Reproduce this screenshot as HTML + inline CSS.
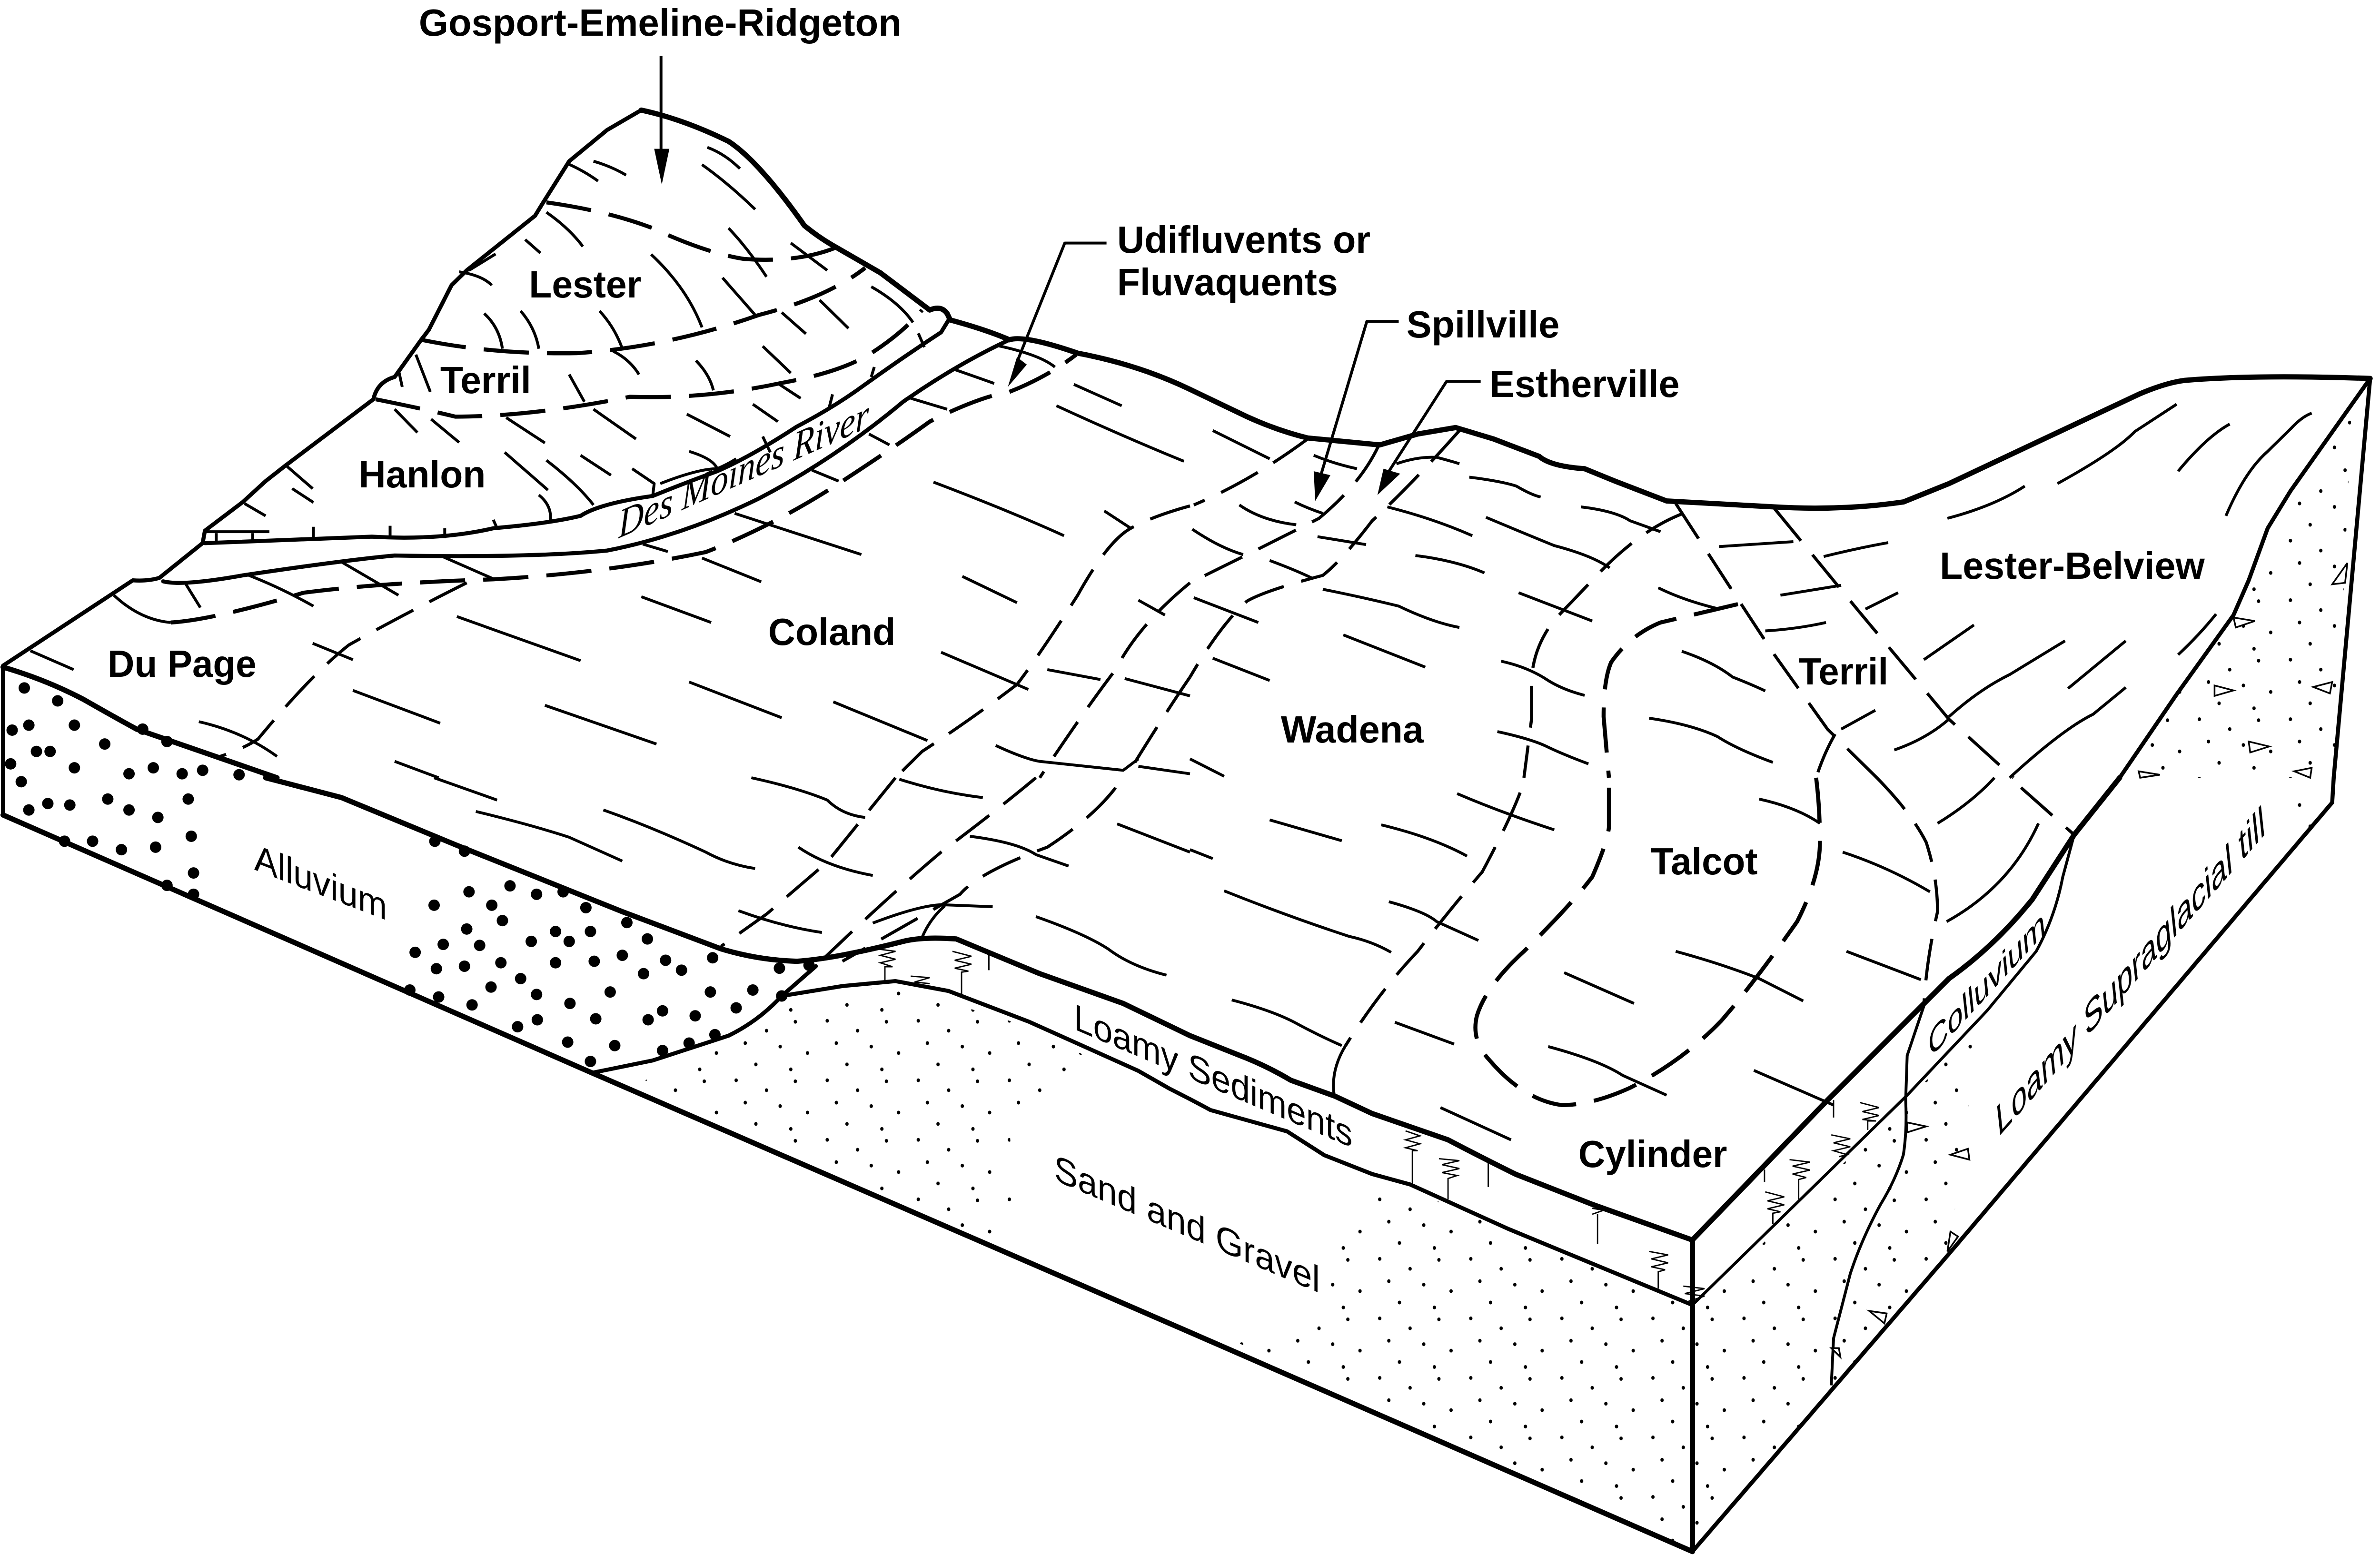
<!DOCTYPE html>
<html><head><meta charset="utf-8"><title>Soil block diagram</title>
<style>
html,body{margin:0;padding:0;background:#fff;overflow:hidden;width:100%;height:100%}
svg{display:block;overflow:hidden;width:100vw;height:100vh}
path,polygon{vector-effect:non-scaling-stroke}
.k{fill:none;stroke:#000;stroke-width:11;stroke-linecap:round;stroke-linejoin:round}
.m{fill:none;stroke:#000;stroke-width:8.5;stroke-linecap:round;stroke-linejoin:round}
.t{fill:none;stroke:#000;stroke-width:6;stroke-linecap:butt;stroke-linejoin:round}
.v{fill:none;stroke:#000;stroke-width:2.8;stroke-linejoin:miter}
.d{fill:none;stroke:#000;stroke-width:6.5;stroke-dasharray:88 38}
.h{fill:none;stroke:#000;stroke-width:8.5;stroke-dasharray:95 38}
.dot{fill:none;stroke:#000;stroke-width:24;stroke-linecap:round}
.a{fill:#000;stroke:none}
.s{stroke:none}
.tri{fill:#fff;stroke:#000;stroke-width:3.5}
.b{font-family:"Liberation Sans",sans-serif;font-weight:700;font-size:80px;fill:#000}
.r{font-family:"Liberation Sans",sans-serif;font-size:78px;fill:#000}
.i{font-family:"Liberation Sans",sans-serif;font-size:88px;fill:#000}
.c{font-family:"Liberation Sans",sans-serif;font-size:74px;fill:#000}
.e{font-family:"Liberation Serif",serif;font-style:italic;font-size:86px;fill:#000}
</style></head>
<body>
<svg xmlns="http://www.w3.org/2000/svg" viewBox="0 0 5552 3267" preserveAspectRatio="none">
<defs>
<pattern id="st" patternUnits="userSpaceOnUse" width="120" height="120">
<g fill="#000">
<ellipse cx="10" cy="10" rx="2.2" ry="3.8"/><ellipse cx="50" cy="30" rx="2.2" ry="3.8"/><ellipse cx="88" cy="12" rx="2.2" ry="3.8"/>
<ellipse cx="22" cy="55" rx="2.2" ry="3.8"/><ellipse cx="68" cy="62" rx="2.2" ry="3.8"/><ellipse cx="104" cy="75" rx="2.2" ry="3.8"/>
<ellipse cx="36" cy="98" rx="2.2" ry="3.8"/><ellipse cx="82" cy="108" rx="2.2" ry="3.8"/>
</g></pattern>
</defs>
<rect width="5552" height="3267" fill="#fff"/>

<!-- Q1 -->
<g transform="matrix(1.7704 0 0 1.0421 0 0)">
<path class="dot" d="M32 1387h.01M76 1413h.01M16 1472h.01M38 1462h.01M98 1462h.01M138 1500h.01M188 1470h.01M220 1495h.01M48 1515h.01M66 1515h.01M14 1540h.01M98 1548h.01M170 1560h.01M202 1548h.01M240 1560h.01M267 1553h.01M315 1562h.01"/>
<path class="m" d="M845 222L800 262L750 325L715 410L705 435L615 545L595 575L565 665L555 685L520 760Q497 770 492 805L375 940L350 970L320 1012L270 1070L267 1095L210 1165Q195 1172 175 1170L4 1342"/>
<path class="k" d="M845 222Q900 240 960 285Q1000 325 1060 455Q1080 480 1100 497L1160 550L1225 625Q1240 615 1248 632L1252 645Q1300 665 1330 685Q1350 675 1420 712Q1500 735 1568 785"/>
<path class="k" d="M4 1345Q60 1370 110 1410Q150 1445 180 1470L365 1568"/>
<path class="m" d="M4 1345V1568"/>
<path class="m" d="M270 1095L490 1082Q580 1090 650 1065Q725 1055 765 1040Q790 1015 860 1000Q900 975 945 950Q990 920 1050 860Q1100 820 1140 775Q1190 720 1240 670L1250 645"/>
<path class="m" d="M215 1172Q240 1182 320 1160Q450 1130 520 1120Q700 1125 800 1110Q900 1080 1000 1005Q1100 925 1190 810Q1260 735 1330 685"/>
<path class="t" d="M870 975Q920 945 945 945Q960 935 970 925M270 1072H355M285 1075V1092M333 1075V1092M413 1062V1087M514 1060V1082M586 1065V1085M650 1048L655 1065
M748 330Q770 345 788 365M782 325Q805 335 825 353M925 332Q960 370 995 422M932 297Q955 310 975 340M720 428Q750 460 768 497M692 483L712 510M653 512L618 545M858 513Q905 580 925 660M960 460Q985 500 1010 558M1042 490L1090 545M952 560L995 635M605 548Q635 555 648 575M638 632Q658 660 662 703M686 627Q705 660 710 703M790 627Q810 660 820 703M1030 630L1062 673M1080 605L1118 662M1148 578Q1185 610 1203 650M1005 698L1042 752M808 708Q830 725 842 755M917 727Q935 755 940 787M750 755L770 810M548 715L567 790M525 745L530 780M1025 773L1055 803M992 815L1025 850M905 835L962 880M782 825L838 885M667 842L718 893M568 845L605 892M520 825L550 872M1097 795L1092 825M1152 740L1148 760M1210 672L1218 700M1005 880L1015 912M908 910Q940 925 945 945M665 912L722 988M720 928Q760 975 782 1018M765 918L805 958M833 945L862 975L860 1000M710 998Q728 1020 725 1052M378 940L412 985M385 985L413 1013M322 1015L350 1040M150 1200Q185 1250 225 1255M40 1312L97 1350M245 1178L264 1225M328 1160Q370 1185 413 1222M450 1133L525 1200M580 1120L650 1167M847 1097L880 1112M925 1125L1003 1173M968 1035L1135 1118M1070 948L1105 970M1145 875L1172 897M1200 803L1248 825M1258 745L1310 773M1315 697Q1370 715 1390 740M1415 775L1478 818M1392 818Q1480 880 1560 930M1230 972Q1330 1030 1402 1080M1268 1162L1340 1215M1240 1315L1355 1390M1380 1350L1450 1370M1482 1368L1568 1403M1455 1030L1490 1065M1500 1210L1535 1240M845 1203L937 1255M602 1243L765 1332M412 1297L465 1330M465 1392L580 1458M718 1422L865 1500M908 1375L1030 1447M1098 1415L1222 1493M262 1455Q320 1475 365 1525M520 1535L578 1568M1312 1503Q1350 1530 1370 1535L1480 1553L1500 1530M1500 1545L1568 1560"/>
<path class="h" d="M720 408Q800 425 860 460Q930 510 980 522Q1050 530 1100 500"/>
<path class="h" d="M555 685Q650 715 760 712Q880 700 1000 635Q1090 600 1140 540"/>
<path class="h" d="M495 805Q560 825 600 840Q700 840 830 800Q930 805 1030 772Q1110 750 1150 710Q1190 670 1215 625"/>
<path class="h" d="M225 1255Q280 1250 400 1195Q500 1175 650 1168Q800 1155 930 1113Q1020 1060 1110 970Q1180 900 1225 850Q1290 800 1330 790Q1380 760 1418 715"/>
<path class="d" d="M615 1175Q530 1240 460 1300Q410 1360 340 1490Q320 1510 290 1525"/>
<path class="d" d="M1568 1020Q1520 1040 1490 1065Q1460 1090 1420 1200Q1370 1320 1340 1380Q1280 1450 1215 1515L1180 1568"/>
<path class="d" d="M1568 1175Q1500 1260 1470 1350Q1430 1430 1370 1568"/>
<path class="d" d="M1568 1365Q1530 1450 1483 1568"/>
<path class="t" d="M871 113V310M1458 490H1403L1340 730"/>
<polygon class="a" points="862,300 882,300 872,372"/>
<polygon class="a" points="1340,720 1353,735 1328,780"/>
</g>

<!-- Q2 -->
<g transform="matrix(1.7704 0 0 1.0421 2776 0)">
<polygon class="s" fill="url(#st)" points="1225,1568 1375,1240 1420,1065 1530,840 1510,1568"/>
<path class="k" d="M0 785L75 840Q115 868 155 883L250 897L300 875L350 862L400 885L460 920Q475 940 520 945L560 970L628 1010L770 1022Q860 1030 940 1012L1000 975L1250 795Q1285 772 1310 767Q1400 755 1555 763"/>
<path class="m" d="M1555 763L1450 990L1420 1065L1395 1170L1375 1240L1300 1400L1225 1568"/>
<path class="m" d="M1555 763L1507 1568"/>
<path class="t" d="M30 868L105 925M163 918Q190 935 220 945M272 935Q300 920 325 922Q345 930 355 935M65 1018Q95 1050 140 1058M138 1012Q155 1025 175 1035M3 1067Q40 1105 70 1118M105 1130Q140 1150 160 1165M168 1082L232 1098M297 1120Q350 1130 388 1155M175 1188Q230 1205 275 1222Q320 1255 355 1265M5 1205L90 1255M202 1280L310 1345M30 1327L105 1372M0 1530L45 1565M410 1333Q445 1345 470 1370Q490 1390 520 1402M405 1475Q450 1490 470 1505Q490 1520 525 1540M605 1448Q660 1460 695 1485Q720 1510 768 1537M648 1313Q690 1335 715 1365Q740 1380 758 1393M433 1195L530 1252M368 962Q410 970 430 980Q450 998 462 1002M260 1022Q320 1045 372 1080M390 1043Q440 1075 480 1100Q530 1120 553 1145M515 1022Q560 1030 580 1050L620 1072M617 1185Q650 1210 695 1227M697 1102L795 1092M778 1200L858 1180M758 1272Q800 1268 838 1255M835 1122Q880 1105 920 1094M890 1228L933 1195M998 1045Q1060 1020 1100 980M1143 975Q1220 910 1245 870L1300 815M1302 950Q1340 880 1370 855M1365 1040Q1390 950 1420 910L1450 865Q1465 840 1478 833M967 1330L1033 1260M1157 1388L1233 1292M1302 1320Q1330 1280 1352 1238M1000 1445Q1040 1390 1080 1360L1153 1292M928 1512Q970 1490 1000 1450M1080 1568Q1150 1470 1190 1440L1233 1386M858 1470L903 1432"/>
<path class="d" d="M155 885Q80 970 5 1018"/>
<path class="d" d="M248 900Q225 975 170 1045Q100 1100 0 1175"/>
<path class="d" d="M355 868Q290 980 240 1050Q200 1130 175 1160Q100 1190 75 1212Q40 1260 0 1365"/>
<path class="d" d="M640 1015L710 1180L770 1320L840 1470L905 1568"/>
<path class="d" d="M770 1025L880 1230L1000 1450L1085 1568"/>
<path class="d" d="M650 1035Q590 1070 530 1170L480 1250Q450 1310 450 1380V1450L440 1568"/>
<path class="h" d="M722 1218L620 1255Q580 1280 555 1335Q545 1370 545 1445L552 1568"/>
<path class="d" d="M850 1480Q835 1520 825 1568"/>
<path class="t" d="M275 648H233L172 960M383 769H338L258 960"/>
<polygon class="a" points="163,950 185,958 165,1010"/>
<polygon class="a" points="255,945 277,955 247,998"/>
<polygon class="tri" points="1505,1178 1525,1135 1522,1175"/>
<polygon class="tri" points="1375,1245 1403,1252 1378,1265"/>
<polygon class="tri" points="1350,1382 1375,1392 1350,1403"/>
<polygon class="tri" points="1480,1385 1505,1375 1502,1398"/>
<polygon class="tri" points="1395,1495 1422,1505 1397,1517"/>
<polygon class="tri" points="1250,1555 1278,1562 1252,1568"/>
<polygon class="tri" points="1455,1555 1478,1548 1476,1568"/>
</g>

<!-- Q3 -->
<g transform="matrix(1.7704 0 0 1.0421 0 1634)">
<polygon class="s" fill="url(#st)" points="850,610 960,520 1030,445 1180,420 1330,490 1430,560 1385,650 1330,700 1340,950 1250,900 1120,810 950,690"/>
<path class="dot" d="M28 8h.01M38 65h.01M63 52h.01M92 55h.01M142 43h.01M170 65h.01M208 80h.01M248 43h.01M85 128h.01M122 128h.01M160 145h.01M205 140h.01M252 118h.01M255 192h.01M220 217h.01M255 235h.01M573 128h.01M612 148h.01M618 230h.01M672 218h.01M707 235h.01M742 230h.01M772 262h.01M572 257h.01M648 257h.01M662 288h.01M826 292h.01M615 305h.01M732 310h.01M778 310h.01M700 330h.01M750 330h.01M853 325h.01M584 336h.01M632 338h.01M547 352h.01M575 385h.01M612 380h.01M660 373h.01M732 373h.01M783 370h.01M820 358h.01M877 368h.01M848 395h.01M898 388h.01M939 363h.01M1027 384h.01M1066 378h.01M686 405h.01M647 422h.01M707 437h.01M804 432h.01M936 432h.01M992 428h.01M540 428h.01M578 442h.01M622 458h.01M751 455h.01M785 486h.01M708 488h.01M682 502h.01M873 470h.01M854 488h.01M916 480h.01M970 464h.01M1030 440h.01M748 533h.01M810 540h.01M942 518h.01M778 572h.01M908 535h.01M873 550h.01"/>
<path class="k" d="M350 0L450 40L600 135L820 270L950 345Q1000 368 1050 370Q1100 365 1190 330Q1215 320 1260 325L1370 395L1480 455L1568 520"/>
<path class="k" d="M4 75L780 595L1568 1118"/>
<path class="m" d="M4 0V75"/>
<path class="m" d="M1030 440L1110 420L1180 410L1250 430L1356 492L1500 591L1540 626L1568 648"/>
<path class="m" d="M780 595L860 570L960 520Q1000 490 1030 440L1075 380"/>
<path class="t" d="M572 0L655 45M627 68Q700 95 750 120L820 168M795 65Q860 100 930 150Q960 175 995 183M990 0Q1050 20 1090 45Q1110 75 1140 80M1052 140Q1090 180 1150 197M1185 3Q1240 30 1295 40M973 268Q1030 300 1083 312M1150 293Q1210 258 1240 256L1308 260M1245 258Q1225 285 1215 322M1278 118Q1340 130 1365 155L1408 178M1365 280Q1430 315 1460 345Q1490 380 1537 398M1472 93L1568 150"/>
<path class="d" d="M1180 0L1090 170L1010 275L950 340"/>
<path class="d" d="M1365 0Q1310 70 1240 150Q1170 240 1085 365"/>
<path class="d" d="M1470 20Q1440 80 1380 140Q1290 190 1265 235Q1190 300 1110 370"/>
<path class="v" d="M1155 345L1180 350L1160 358L1180 366L1160 373L1176 381L1166 381V410M1255 350L1280 360L1258 368L1280 376L1258 384L1276 390L1267 392V440M1200 400L1225 403L1205 412L1225 415M1303 350V388"/>
</g>

<!-- Q4 -->
<g transform="matrix(1.7704 0 0 1.0421 2776 1634)">
<polygon class="s" fill="url(#st)" points="200,860 290,830 420,915 662,1070 662,1555 50,1130 170,1080"/>
<polygon class="s" fill="url(#st)" points="665,1075 945,650 1040,500 1000,960 662,1550"/>
<polygon class="s" fill="url(#st)" points="1440,50 1505,50 1480,110 1420,110"/>
<path class="k" d="M0 520L64 559Q100 580 133 610L191 642L240 677L340 730Q390 770 430 800L530 860L662 932"/>
<path class="k" d="M0 1118L662 1560"/>
<path class="k" d="M662 932V1560"/>
<path class="k" d="M662 932L840 650L1000 405Q1060 340 1110 245L1165 115L1225 0"/>
<path class="m" d="M1507 0L1505 50L1000 960L662 1560"/>
<path class="m" d="M0 648Q15 660 27 670L128 713L177 761L240 799L290 820L420 910L662 1063"/>
<path class="t" d="M662 1063L945 640L1050 470L1115 350Q1140 280 1150 200L1165 115"/>
<path class="t" d="M967 460L945 560L943 650Q945 710 940 760Q930 810 910 860Q885 930 870 1000L848 1130L845 1225"/>
<path class="t" d="M190 640Q185 590 205 540M352 32Q410 70 480 105M105 85L200 127M252 95Q320 120 365 158M0 145L30 163M750 43Q800 60 830 92M860 150Q920 180 975 230M45 228Q130 280 210 320Q240 330 265 352M262 250Q310 270 325 290L380 328M55 448Q110 470 140 495Q170 520 200 540M270 493L348 537M640 350Q700 375 750 405L808 450M493 393L585 455M472 542Q540 570 570 600L628 640M865 350L963 407M743 590L848 660M330 665L423 730M985 92Q1030 50 1060 0M997 290Q1080 220 1118 92"/>
<path class="h" d="M825 0Q830 60 830 130Q830 200 800 290Q740 420 700 490Q650 570 580 625Q530 660 490 660Q440 650 395 570Q370 530 378 480Q390 420 440 350Q500 260 530 200Q550 130 552 100V20"/>
<path class="d" d="M435 30Q420 90 385 190Q340 270 300 350Q250 430 205 540"/>
<path class="d" d="M905 0Q950 70 970 130Q985 200 985 270Q970 370 967 460"/>
<path class="d" d="M1095 20L1165 115"/>
<path class="v" d="M284 712L303 722L284 730L303 738L284 746L300 752L293 752V820M328 768L355 772L332 780L355 788L332 796L352 802L340 808V850M393 770V825M530 868L545 872L530 880M537 880V940M605 955L630 962L608 970L630 978L608 986L626 992L617 996V1030M650 1025L678 1030L652 1040L678 1045L652 1058M848 650V685M883 655L908 665L886 673L908 681L886 689L904 692L893 692V710M845 720L870 728L848 736L870 744L848 752L866 760L855 764M790 770L817 775L794 783L817 791L794 799L812 806L802 810V850M757 790V815M758 835L783 845L761 853L783 861L761 869L778 875L768 878V900"/>
<polygon class="tri" points="945,695 970,703 945,715"/>
<polygon class="tri" points="1002,760 1025,748 1027,770"/>
<polygon class="tri" points="998,955 1002,915 1012,925"/>
<polygon class="tri" points="895,1075 918,1080 915,1100"/>
<polygon class="tri" points="845,1150 855,1150 857,1168"/>
</g>

<!-- labels -->
<text class="b" x="977" y="75" textLength="1126" lengthAdjust="spacingAndGlyphs">Gosport-Emeline-Ridgeton</text>
<text class="b" x="1234" y="625" textLength="262" lengthAdjust="spacingAndGlyphs">Lester</text>
<text class="b" x="1027" y="826" textLength="212" lengthAdjust="spacingAndGlyphs">Terril</text>
<text class="b" x="837" y="1024" textLength="296" lengthAdjust="spacingAndGlyphs">Hanlon</text>
<text class="b" x="251" y="1422" textLength="347" lengthAdjust="spacingAndGlyphs">Du Page</text>
<text class="b" x="1792" y="1355" textLength="297" lengthAdjust="spacingAndGlyphs">Coland</text>
<text class="b" x="2606" y="531" textLength="591" lengthAdjust="spacingAndGlyphs">Udifluvents or</text>
<text class="b" x="2606" y="620" textLength="515" lengthAdjust="spacingAndGlyphs">Fluvaquents</text>
<text class="b" x="3281" y="709" textLength="357" lengthAdjust="spacingAndGlyphs">Spillville</text>
<text class="b" x="3475" y="834" textLength="443" lengthAdjust="spacingAndGlyphs">Estherville</text>
<text class="b" x="4525" y="1216" textLength="618" lengthAdjust="spacingAndGlyphs">Lester-Belview</text>
<text class="b" x="4196" y="1438" textLength="209" lengthAdjust="spacingAndGlyphs">Terril</text>
<text class="b" x="2988" y="1560" textLength="333" lengthAdjust="spacingAndGlyphs">Wadena</text>
<text class="b" x="3851" y="1837" textLength="249" lengthAdjust="spacingAndGlyphs">Talcot</text>
<text class="b" x="3682" y="2452" textLength="347" lengthAdjust="spacingAndGlyphs">Cylinder</text>

<text class="r" transform="matrix(1 .345 0 1 593 1827)" textLength="310" lengthAdjust="spacingAndGlyphs">Alluvium</text>
<text class="r" transform="matrix(1 .384 0 1 2505 2162)" textLength="650" lengthAdjust="spacingAndGlyphs">Loamy Sediments</text>
<text class="r" transform="matrix(1 .384 0 1 2459 2479)" textLength="620" lengthAdjust="spacingAndGlyphs">Sand and Gravel</text>
<text class="c" transform="matrix(1 -.98 .12 1 4502 2224)" textLength="271" lengthAdjust="spacingAndGlyphs">Colluvium</text>
<text class="i" transform="matrix(1 -1.023 .12 1 4661 2390)" textLength="625" lengthAdjust="spacingAndGlyphs">Loamy Supraglacial till</text>
<text class="e" transform="matrix(1 -.4 0 1 1443 1131)" textLength="584" lengthAdjust="spacingAndGlyphs">Des Moines River</text>
</svg>
</body></html>
